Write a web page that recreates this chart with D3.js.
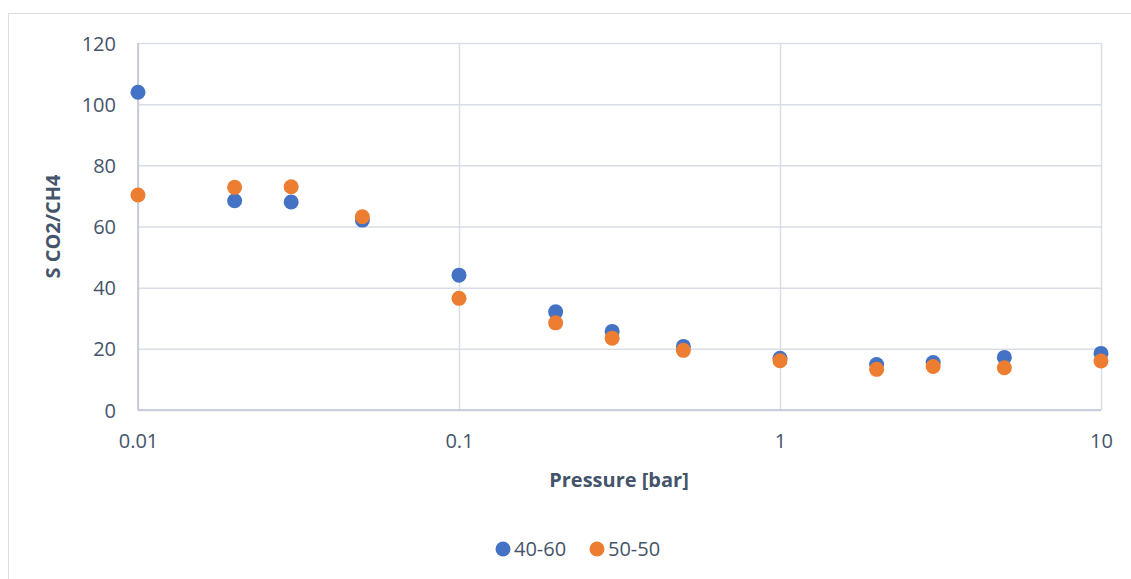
<!DOCTYPE html>
<html>
<head>
<meta charset="utf-8">
<script src="https://cdn.jsdelivr.net/npm/d3@7"></script>
<style>
  body { margin: 0; background: #fff; }
  svg text { font-family: "Open Sans", sans-serif; fill: #44546A; }
</style>
</head>
<body>
<svg id="chart" width="1131" height="579"></svg>
<script>
const pressures = [0.01, 0.02, 0.03, 0.05, 0.1, 0.2, 0.3, 0.5, 1, 2, 3, 5, 10];
const series4060 = [103.9, 68.4, 68.0, 62.1, 44.1, 32.1, 25.7, 20.8, 16.9, 14.9, 15.5, 17.2, 18.5];
const series5050 = [70.3, 72.8, 73.0, 63.2, 36.5, 28.5, 23.5, 19.5, 16.1, 13.3, 14.2, 13.8, 16.0];
const seriesNames = ["40-60", "50-50"];
const seriesColors = ["#4472C4", "#ED7D31"];
const xTicks = [0.01, 0.1, 1, 10];
const xTickLabels = ["0.01", "0.1", "1", "10"];
const yTicks = [0, 20, 40, 60, 80, 100, 120];
const xTitle = "Pressure [bar]";
const yTitle = "S CO2/CH4";

const svg = d3.select("#chart");
const pL = 138, pR = 1101, pT = 43, pB = 410;
const FONT = '"Open Sans", sans-serif';

// outer chart border
svg.append("rect").attr("x", 8.5).attr("y", 13.5).attr("width", 1140).attr("height", 600)
  .attr("fill", "none").attr("stroke", "#D9DEE6").attr("stroke-width", 1);

const x = d3.scaleLog().domain([0.01, 10]).range([pL, pR]);
const y = d3.scaleLinear().domain([0, 120]).range([pB, pT]);

// horizontal gridlines
const gy = svg.append("g").attr("transform", `translate(${pL},0)`)
  .call(d3.axisLeft(y).tickValues(yTicks).tickSize(-(pR - pL)).tickFormat(""));
gy.select(".domain").remove();
gy.selectAll("line").attr("stroke", "#D9DEE6").attr("stroke-width", 1.5);

// vertical gridlines
const gx = svg.append("g").attr("transform", `translate(0,${pB})`)
  .call(d3.axisBottom(x).tickValues(xTicks).tickSize(-(pB - pT)).tickFormat(""));
gx.select(".domain").remove();
gx.selectAll("line").attr("stroke", "#D9DEE6").attr("stroke-width", 1.5);

// axis lines
svg.append("line").attr("x1", pL).attr("x2", pL).attr("y1", pT).attr("y2", pB)
  .attr("stroke", "#BCC5D3").attr("stroke-width", 1.5);
svg.append("line").attr("x1", pL).attr("x2", pR).attr("y1", pB).attr("y2", pB)
  .attr("stroke", "#BCC5D3").attr("stroke-width", 1.5);

// y tick labels
const yl = svg.append("g").attr("transform", `translate(${pL - 22},0)`)
  .call(d3.axisLeft(y).tickValues(yTicks).tickSize(0).tickPadding(0));
yl.select(".domain").remove();
yl.selectAll("text").attr("font-size", 20).attr("dy", "0.35em").style("font-family", FONT).style("fill", "#44546A");

// x tick labels
const xl = svg.append("g").attr("transform", `translate(0,${pB + 26})`)
  .call(d3.axisBottom(x).tickValues(xTicks).tickSize(0).tickPadding(0)
    .tickFormat((d, i) => xTickLabels[i]));
xl.select(".domain").remove();
xl.selectAll("text").attr("font-size", 20).attr("dy", "0.62em").style("font-family", FONT).style("fill", "#44546A");

// axis titles
svg.append("text").attr("x", 619).attr("y", 487).attr("text-anchor", "middle")
  .attr("font-size", 20).attr("font-weight", "bold").text(xTitle);
svg.append("text").attr("transform", `translate(60,${(pT + pB) / 2}) rotate(-90)`)
  .attr("text-anchor", "middle").attr("font-size", 20).attr("font-weight", "bold").text(yTitle);

// points
const allSeries = [series4060, series5050];
allSeries.forEach((vals, si) => {
  svg.append("g").selectAll("circle").data(vals).join("circle")
    .attr("cx", (d, i) => x(pressures[i]))
    .attr("cy", d => y(d))
    .attr("r", 7.5)
    .attr("fill", seriesColors[si]);
});

// legend
const legendX = [503, 597];
seriesNames.forEach((name, i) => {
  const g = svg.append("g").attr("transform", `translate(${legendX[i]},549)`);
  g.append("circle").attr("r", 7.5).attr("fill", seriesColors[i]);
  g.append("text").attr("x", 11).attr("dy", "0.36em").attr("font-size", 20).text(name);
});
</script>
</body>
</html>
